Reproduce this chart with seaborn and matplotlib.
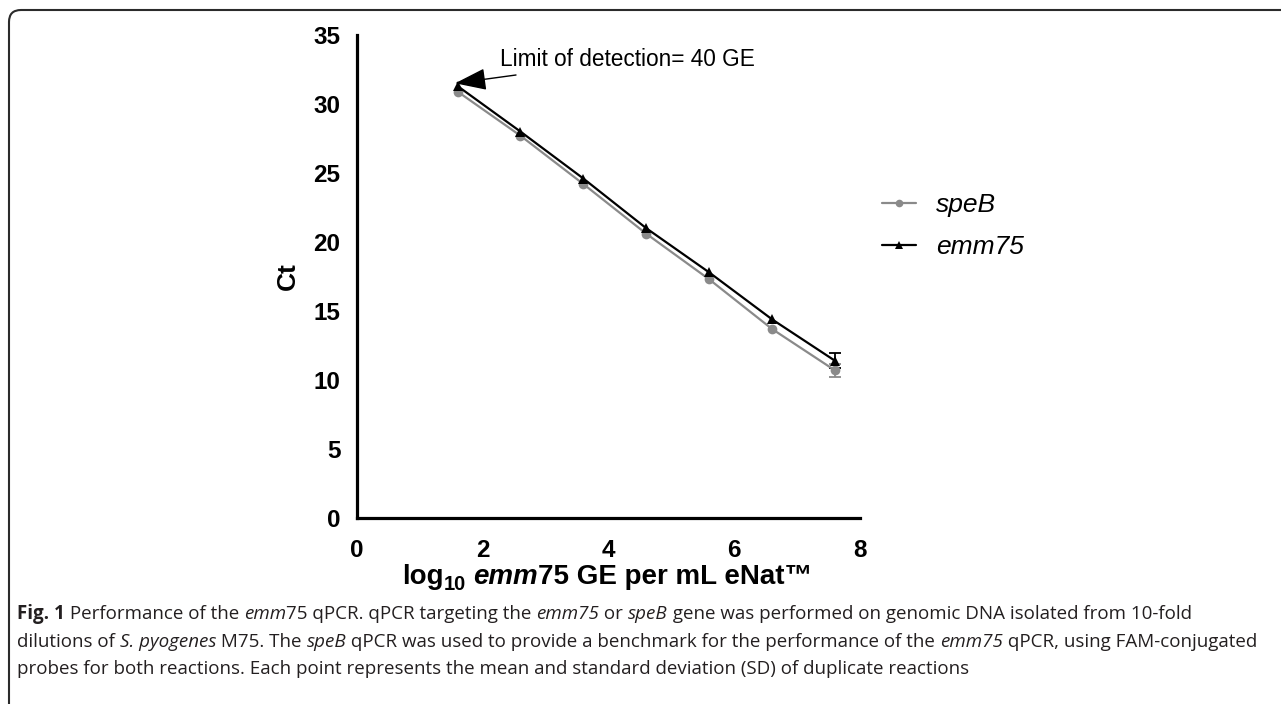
import numpy as np
import pandas as pd
import seaborn as sns
import matplotlib
matplotlib.use("Agg")
import matplotlib.pyplot as plt
from matplotlib.patches import FancyBboxPatch
from matplotlib.transforms import IdentityTransform
from matplotlib.lines import Line2D

# ---------------- data ----------------
log_ge = [1.6, 2.6, 3.6, 4.6, 5.6, 6.6, 7.6]
emm75_ct = [31.3, 28.0, 24.6, 21.0, 17.8, 14.4, 11.4]
emm75_sd = [0.0, 0.0, 0.0, 0.0, 0.0, 0.0, 0.55]
speb_ct = [30.9, 27.7, 24.2, 20.6, 17.3, 13.7, 10.7]
speb_sd = [0.0, 0.0, 0.0, 0.0, 0.0, 0.0, 0.45]
series_names = ["speB", "emm75"]
x_ticks = [0, 2, 4, 6, 8]
y_ticks = [0, 5, 10, 15, 20, 25, 30, 35]
annot_text = "Limit of detection= 40 GE"

df = pd.concat([
    pd.DataFrame({"x": log_ge, "ct": speb_ct, "sd": speb_sd, "gene": series_names[0]}),
    pd.DataFrame({"x": log_ge, "ct": emm75_ct, "sd": emm75_sd, "gene": series_names[1]}),
])

sns.set_theme(style="white")
plt.rcParams["font.family"] = ["Liberation Sans", "DejaVu Sans"]
plt.rcParams["text.color"] = "black"
plt.rcParams["axes.labelcolor"] = "black"

W, H = 1281, 704
fig = plt.figure(figsize=(W / 100, H / 100), dpi=100)
fig.patch.set_facecolor("white")

def fx(px):
    return px / W

def fy(py):
    return 1 - py / H

ax = fig.add_axes([fx(357), fy(518), fx(860) - fx(357), fy(35) - fy(518)])
ax.set_facecolor("white")

colors = {"speB": "#8a8a8a", "emm75": "#000000"}
markers = {"speB": "o", "emm75": "^"}

sns.lineplot(data=df, x="x", y="ct", hue="gene", style="gene",
             palette=colors, markers=markers, dashes=False,
             linewidth=1.6, markersize=7, markeredgewidth=0,
             ax=ax, legend=False, errorbar=None)
for g in series_names:
    sub = df[(df["gene"] == g) & (df["sd"] > 0)]
    ax.errorbar(sub["x"], sub["ct"], yerr=sub["sd"], fmt="none",
                ecolor=colors[g], elinewidth=1.3, capsize=4, capthick=1.3, zorder=1)

ax.set_xlim(0, 8)
ax.set_ylim(0, 35)
ax.set_xticks(x_ticks)
ax.set_yticks(y_ticks)
ax.set_xticklabels([str(t) for t in x_ticks], fontsize=17.5, fontweight="bold")
ax.set_yticklabels([str(t) for t in y_ticks], fontsize=17.5, fontweight="bold")
for side in ["top", "right"]:
    ax.spines[side].set_visible(False)
for side in ["left", "bottom"]:
    ax.spines[side].set_linewidth(2.3)
    ax.spines[side].set_color("black")
ax.tick_params(axis="both", which="major", direction="out", length=9, width=2.3,
               color="black", labelcolor="black")
ax.tick_params(axis="x", pad=6)
ax.tick_params(axis="y", pad=3)
ax.set_xlabel("")
ax.set_ylabel("Ct", fontsize=19, fontweight="bold", labelpad=10, color="black")

# annotation with arrow
ax.annotate(annot_text, xy=(1.56, 31.5), xytext=(2.27, 33.2),
            fontsize=16.3, va="center", ha="left", color="black",
            arrowprops=dict(arrowstyle="-|>,head_length=1.2,head_width=0.42",
                            color="black", lw=1.0, shrinkA=2, shrinkB=0))

# legend
handles = [Line2D([0], [0], color=colors[g], marker=markers[g], markersize=5.5,
                  markeredgewidth=0, lw=1.6) for g in series_names]
leg = ax.legend(handles, series_names, loc="upper left",
                bbox_to_anchor=(fx(882), fy(193)), bbox_transform=fig.transFigure,
                frameon=False, borderpad=0, borderaxespad=0, handlelength=1.3,
                handletextpad=0.75, labelspacing=0.7,
                prop={"size": 19, "style": "italic"})
for t in leg.get_texts():
    t.set_color("black")

# ---------------- rich text helper ----------------
fig.canvas.draw()
renderer = fig.canvas.get_renderer()

def rich(x0, y0, runs, ha="left", base=None):
    base = base or {}
    arts = []
    widths = []
    for txt, props in runs:
        p = dict(base)
        p.update(props)
        dy = p.pop("dy", 0)
        t = fig.text(0, 0, txt, transform=IdentityTransform(), va="baseline", **p)
        bb = t.get_window_extent(renderer)
        arts.append((t, dy))
        widths.append(bb.width)
    total = sum(widths)
    x = x0 - total / 2 if ha == "center" else x0
    for (t, dy), w in zip(arts, widths):
        t.set_position((x, y0 + dy))
        x += w
    return arts

# x label
lab = {"fontsize": 20, "fontweight": "bold", "color": "black",
       "family": ["Liberation Sans", "DejaVu Sans"]}
rich(607, H - 584, [
    ("log", {}),
    ("10", {"fontsize": 14.5, "dy": -6}),
    (" ", {}),
    ("emm", {"style": "italic"}),
    ("75 GE per mL eNat™", {}),
], ha="center", base=lab)

# caption
cap = {"fontsize": 13.5, "color": "#231f20", "family": ["Open Sans", "DejaVu Sans"]}
it = {"style": "italic"}
rich(17, H - 619, [
    ("Fig. 1", {"fontweight": "bold"}),
    (" Performance of the ", {}), ("emm", it), ("75 qPCR. qPCR targeting the ", {}),
    ("emm75", it), (" or ", {}), ("speB", it),
    (" gene was performed on genomic DNA isolated from 10-fold", {}),
], base=cap)
rich(17, H - 647, [
    ("dilutions of ", {}), ("S. pyogenes", it), (" M75. The ", {}), ("speB", it),
    (" qPCR was used to provide a benchmark for the performance of the ", {}),
    ("emm75", it), (" qPCR, using FAM-conjugated", {}),
], base=cap)
rich(17, H - 674, [
    ("probes for both reactions. Each point represents the mean and standard deviation (SD) of duplicate reactions", {}),
], base=cap)

# rounded border
border = FancyBboxPatch((9, -60), W + 60, H - 10 + 60,
                        boxstyle="round,pad=0,rounding_size=12",
                        transform=IdentityTransform(), fill=False,
                        edgecolor="#2b2b2b", linewidth=1.5, clip_on=False)
fig.add_artist(border)

fig.savefig("out.png", dpi=100, facecolor="white")
